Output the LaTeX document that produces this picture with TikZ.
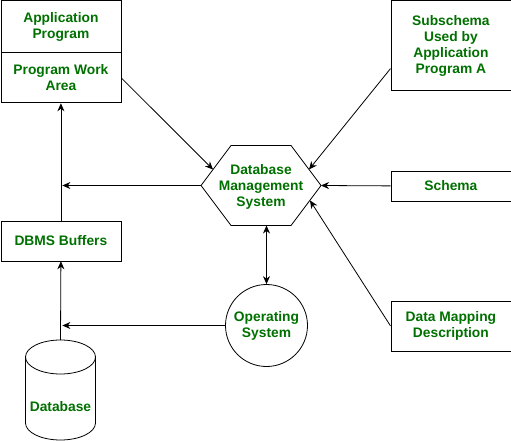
\documentclass[tikz,border=0pt]{standalone}
\usepackage{fontspec}
\setmainfont{Liberation Sans}
\usetikzlibrary{arrows.meta,calc}
\definecolor{txtgreen}{RGB}{0,112,0}
\begin{document}
\begin{tikzpicture}[x=1pt,y=-1pt,
  lbl/.style={text=txtgreen, font=\fontsize{13.8}{16}\selectfont\bfseries, align=center, inner sep=0pt},
  box/.style={lbl, draw, line width=0.8pt, anchor=north west, minimum width=120pt},
  conn/.style={line width=0.8pt, -{Stealth[length=8pt,width=7pt]}},
  outline/.style={line width=0.8pt}]
\useasboundingbox (0,0) rectangle (511,441);
% boxes
\node[box, minimum height=52pt] (app) at (0.5,0.5) {Application\\Program};
\node[box, minimum height=50pt] (work) at (0.5,52.5) {Program Work\\Area};
\node[box, minimum height=90pt] (sub) at (390.5,0.5) {Subschema\\Used by\\Application\\Program A};
\node[box, minimum height=30pt] (schema) at (390.5,170.5) {Schema};
\node[box, minimum height=50pt] (dmap) at (390.5,300.5) {Data Mapping\\Description};
\node[box, minimum height=40pt] (buf) at (0.5,220.5) {DBMS Buffers};
% hexagon
\draw[outline] (201,185.5) -- (231,145.5) -- (291,145.5) -- (321,185.5) -- (291,225.5) -- (231,225.5) -- cycle;
\node[lbl] (dbms) at (261,187) {Database\\Management\\System};
\coordinate (hexUL) at (213,169.5);
\coordinate (hexUR) at (309,169.5);
\coordinate (hexR) at (321,185.5);
\coordinate (hexLR) at (310,200.5);
\coordinate (hexL) at (201,185.5);
\coordinate (hexB) at (266.5,225.5);
% operating system
\node[lbl, draw, circle, line width=0.8pt, minimum size=82pt] (os) at (266.5,325.5) {Operating\\System};
% database cylinder
\draw[outline] (25.5,357) arc[start angle=180,end angle=0,x radius=35pt,y radius=17pt] -- (95.5,423)
  arc[start angle=0,end angle=-180,x radius=35pt,y radius=17pt] -- cycle;
\draw[outline] (25.5,357) arc[start angle=180,end angle=360,x radius=35pt,y radius=17pt];
\node[lbl] (db) at (60.5,406.5) {Database};
\coordinate (dbtop) at (60.5,340);
% connectors
\draw[conn] (work.east) -- (hexUL);
\draw[conn] ($(sub.south west)!0.25!(sub.north west)$) -- (hexUR);
\draw[conn] (schema.west) -- (hexR);
\draw[conn] (dmap.west) -- (hexLR);
\draw[conn, shorten >=1.5pt] (hexL) -- (hexL -| buf.north);
\draw[conn] (buf.north) -- (work.south);
\draw[conn] (dbtop) -- (buf.south);
\draw[conn, shorten >=1.5pt] (os.west) -- (os.west -| buf.south);
\draw[conn, {Stealth[length=8pt,width=7pt]}-{Stealth[length=8pt,width=7pt]}] (hexB) -- (os.north);
\end{tikzpicture}
\end{document}
